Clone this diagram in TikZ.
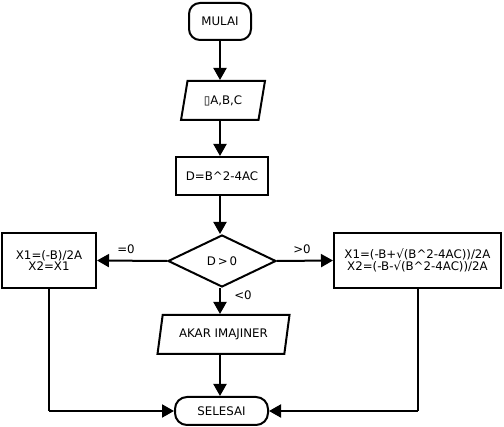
\documentclass[tikz,border=0pt]{standalone}
\usepackage{fontspec}
\setmainfont{DejaVu Sans}
\usetikzlibrary{arrows.meta,shapes.geometric}
\begin{document}
\begin{tikzpicture}[x=1pt,y=-1pt,
  every node/.style={font=\fontsize{11.8}{11.2}\selectfont},
  shape base/.style={draw, line width=2pt, inner sep=0pt, anchor=center},
  terminal/.style={shape base, rectangle, rounded corners=11pt},
  process/.style={shape base, rectangle, align=center},
  io/.style={shape base, trapezium, trapezium left angle=71,
    trapezium right angle=109, trapezium stretches=true},
  decision/.style={shape base, diamond},
  flow/.style={line width=2pt, -{Triangle[length=12pt,width=13pt]}},
  link/.style={line width=2pt}
]
\useasboundingbox (0,0) rectangle (504,427);

% main column
\node[terminal, minimum width=62pt, minimum height=37pt] (mulai) at (220,21.5) {MULAI};
\node[io, minimum width=84pt, minimum height=39pt] (input) at (223,100.5) {▯A,B,C};
\node[process, minimum width=92pt, minimum height=38pt] (disc) at (222,176) {D=B\textasciicircum 2-4AC};
\node[decision, minimum width=108pt, minimum height=52pt] (test) at (222,261) {D\,>\,0};
\node[io, minimum width=133pt, minimum height=39pt] (imag) at (223.5,334.5) {AKAR IMAJINER};
\node[terminal, minimum width=93pt, minimum height=28pt, rounded corners=12pt] (selesai) at (221.5,411) {SELESAI};

% side branches
\node[process, minimum width=94pt, minimum height=55pt] (equal) at (49,260.5)
  {X1=(-B)/2A\\X2=X1};
\node[process, minimum width=167pt, minimum height=55pt] (real) at (417.5,260.5)
  {X1=(-B+√(B\textasciicircum 2-4AC))/2A\\X2=(-B-√(B\textasciicircum 2-4AC))/2A};

% connectors
\draw[flow] (mulai) -- (mulai |- input.north);
\draw[flow] (mulai |- input.south) -- (mulai |- disc.north);
\draw[flow] (mulai |- disc.south) -- (mulai |- test.north);
\draw[flow] (test.west) -- (equal.east);
\draw[flow] (test.east) -- (real.west);
\draw[flow] (mulai |- test.south) -- (mulai |- imag.north);
\draw[flow] (mulai |- imag.south) -- (mulai |- selesai.north);
\draw[link] (equal.south) -- (equal.south |- selesai.west);
\draw[flow] (equal.south |- selesai.west) -- (selesai.west);
\draw[link] (real.south) -- (real.south |- selesai.east);
\draw[flow] (real.south |- selesai.east) -- (selesai.east);

% branch labels
\node (lbl-eq) at (126,249) {=0};
\node (lbl-gt) at (302,249) {>0};
\node (lbl-lt) at (243,295) {<0};
\end{tikzpicture}
\end{document}
